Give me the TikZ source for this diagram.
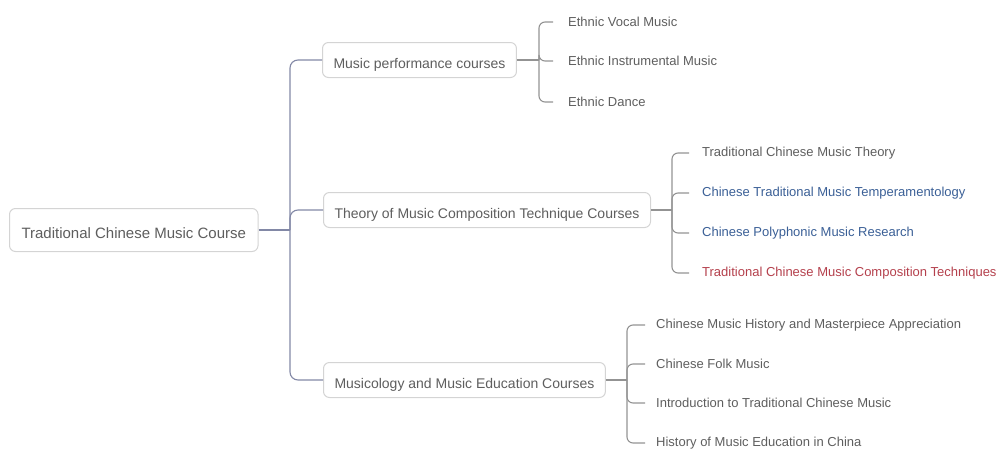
\documentclass[tikz,border=0pt]{standalone}
\usepackage{fontspec}
\setmainfont{Liberation Sans}
\definecolor{txtgray}{HTML}{5E5E5E}
\definecolor{boxline}{HTML}{D4D4D4}
\definecolor{trunkline}{HTML}{8288A6}
\definecolor{leafline}{HTML}{939393}
\definecolor{txtblue}{HTML}{3A5F96}
\definecolor{txtred}{HTML}{B4404C}
\tikzset{
  rootbox/.style={draw=boxline, line width=1pt, rounded corners=6pt, fill=white,
    anchor=west, inner xsep=12pt, minimum height=43pt, text=txtgray,
    text height=17pt, text depth=0pt,
    font=\fontsize{15}{18}\selectfont},
  midbox/.style={draw=boxline, line width=1pt, rounded corners=6pt, fill=white,
    anchor=west, inner xsep=11pt, minimum height=35pt, text=txtgray,
    text height=16pt, text depth=0pt,
    font=\fontsize{14}{17}\selectfont},
  leaf/.style={anchor=west, inner sep=0pt, text=txtgray,
    font=\fontsize{13}{16}\selectfont},
  trunk/.style={draw=trunkline, line width=1.1pt, rounded corners=8pt},
  twig/.style={draw=leafline, line width=1.1pt, rounded corners=6pt},
}
\begin{document}
\begin{tikzpicture}[x=1pt,y=-1pt]
\useasboundingbox (0,0) rectangle (996,450);

% root and the three course groups
\node[rootbox] (root) at (9,230) {Traditional Chinese Music Course};
\node[midbox] (m1) at (322,60) {Music performance courses};
\node[midbox] (m2) at (323,210) {Theory of Music Composition Technique Courses};
\node[midbox] (m3) at (323,380) {Musicology and Music Education Courses};

% performance courses
\node[leaf] (a1) at (568,22) {Ethnic Vocal Music};
\node[leaf] (a2) at (568,61) {Ethnic Instrumental Music};
\node[leaf] (a3) at (568,102) {Ethnic Dance};

% composition technique courses
\node[leaf] (b1) at (702,153) {Traditional Chinese Music Theory};
\node[leaf, text=txtblue] (b2) at (702,193) {Chinese Traditional Music Temperamentology};
\node[leaf, text=txtblue] (b3) at (702,233) {Chinese Polyphonic Music Research};
\node[leaf, text=txtred] (b4) at (702,273) {Traditional Chinese Music Composition Techniques};

% musicology and education courses
\node[leaf] (c1) at (656,325) {Chinese Music History and Masterpiece Appreciation};
\node[leaf] (c2) at (656,364) {Chinese Folk Music};
\node[leaf] (c3) at (656,403) {Introduction to Traditional Chinese Music};
\node[leaf] (c4) at (656,443) {History of Music Education in China};

% trunk from the root to the groups
\coordinate (tr) at (290,230);
\draw[trunk] (root.east) -- (tr);
\draw[trunk] (tr) |- (m1.west);
\draw[trunk] (tr) |- (m2.west);
\draw[trunk] (tr) |- (m3.west);

% brackets from each group to its courses
\coordinate (ka) at (539,60);
\draw[twig] (m1.east) -- (ka);
\foreach \t in {a1,a2,a3} \draw[twig] (ka) |- ([xshift=-15pt]\t.west);

\coordinate (kb) at (672,210);
\draw[twig] (m2.east) -- (kb);
\foreach \t in {b1,b2,b3,b4} \draw[twig] (kb) |- ([xshift=-13pt]\t.west);

\coordinate (kc) at (627,380);
\draw[twig] (m3.east) -- (kc);
\foreach \t in {c1,c2,c3,c4} \draw[twig] (kc) |- ([xshift=-11pt]\t.west);
\end{tikzpicture}
\end{document}
